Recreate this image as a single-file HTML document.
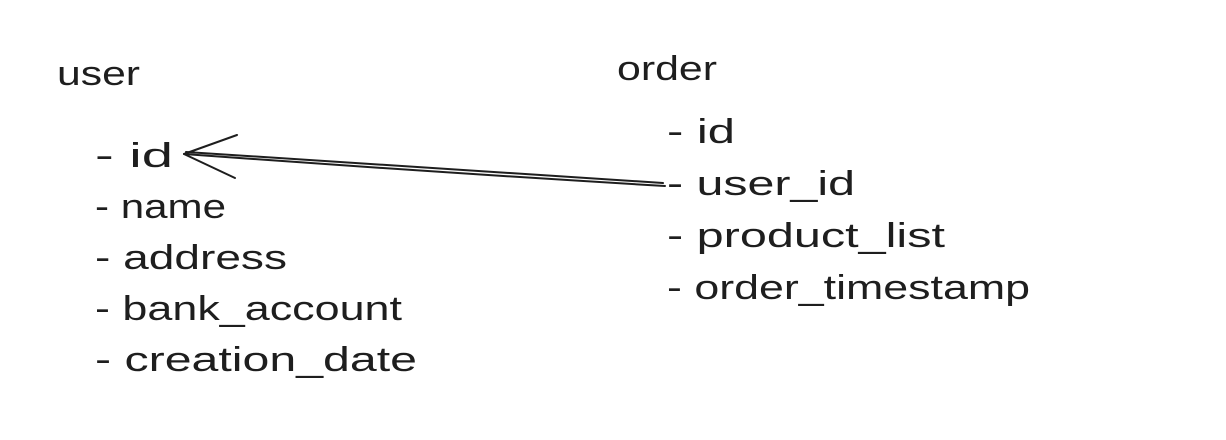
<!DOCTYPE html>
<html><head><meta charset="utf-8"><style>
html,body{margin:0;padding:0;background:#fff;}
svg{display:block;}
text{font-family:"Liberation Sans",sans-serif;font-size:34px;fill:#1e1e1e;}
</style></head><body>
<svg width="1226" height="440" viewBox="0 0 1226 440" xmlns="http://www.w3.org/2000/svg">
<rect width="1226" height="440" fill="#fff"/>
<text x="57" y="85" textLength="83" lengthAdjust="spacingAndGlyphs">user</text>
<text x="617" y="80" textLength="100" lengthAdjust="spacingAndGlyphs">order</text>

<text x="95" y="167" textLength="78" lengthAdjust="spacingAndGlyphs">- id</text>
<text x="95" y="218" textLength="131" lengthAdjust="spacingAndGlyphs">- name</text>
<text x="95" y="269" textLength="192" lengthAdjust="spacingAndGlyphs">- address</text>
<text x="95" y="320" textLength="307" lengthAdjust="spacingAndGlyphs">- bank_account</text>
<text x="95" y="371" textLength="322" lengthAdjust="spacingAndGlyphs">- creation_date</text>

<text x="667" y="143" textLength="68" lengthAdjust="spacingAndGlyphs">- id</text>
<text x="667" y="195" textLength="188" lengthAdjust="spacingAndGlyphs">- user_id</text>
<text x="667" y="247" textLength="278" lengthAdjust="spacingAndGlyphs">- product_list</text>
<text x="667" y="299" textLength="363" lengthAdjust="spacingAndGlyphs">- order_timestamp</text>

<g stroke="#1e1e1e" stroke-width="2" fill="none" stroke-linecap="round">
<path d="M665 186 Q430 172 184 154"/>
<path d="M663 183 Q430 168 186 152"/>
<path d="M184 154 L237 135"/>
<path d="M184 154 L235 178"/>
</g>
</svg>
</body></html>
